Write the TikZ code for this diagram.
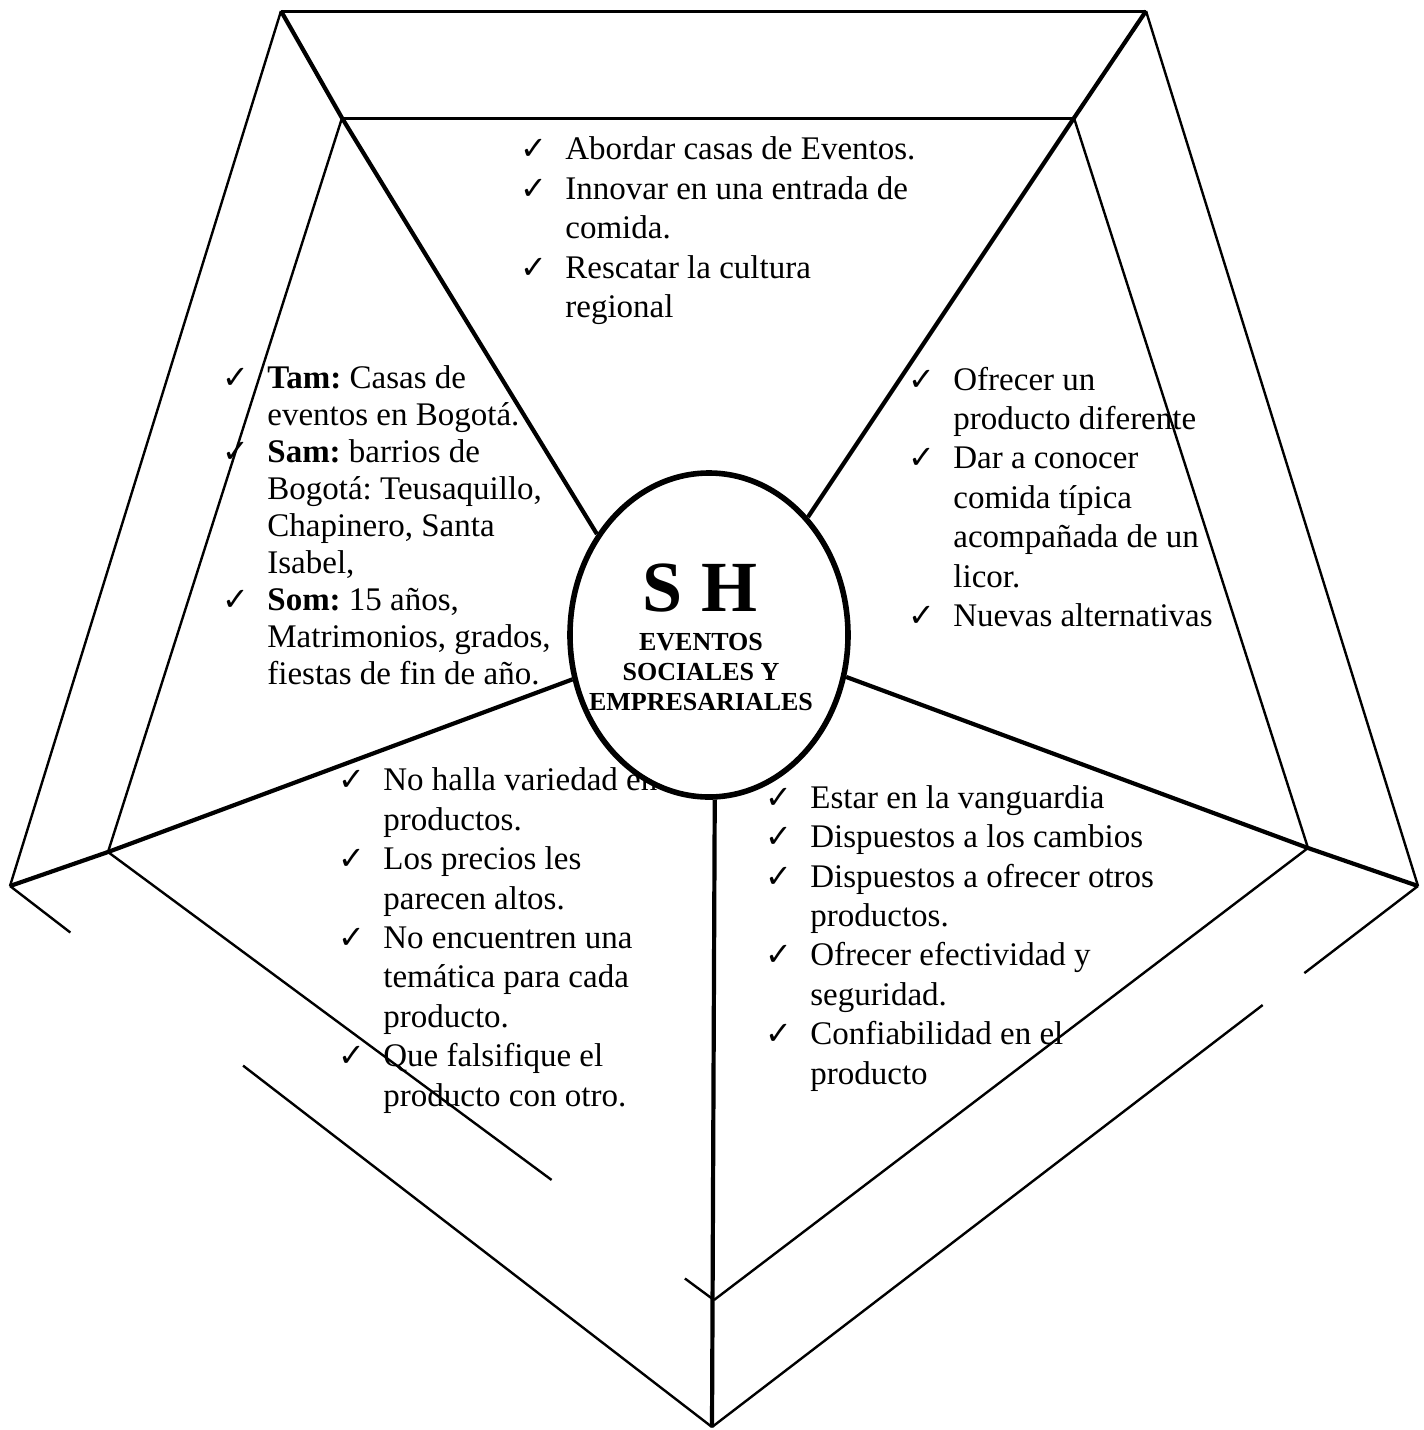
\documentclass[tikz,border=0pt]{standalone}
\usepackage{fontspec}
\setmainfont{Liberation Serif}
\newfontfamily\checkfont{DejaVu Sans}
\usetikzlibrary{calc,shapes.geometric}
\frenchspacing

\newcommand{\chk}{\makebox[22.5pt][l]{\checkfont\fontsize{16}{16}\selectfont ✓}}
\newcommand{\cnt}{\hspace*{22.5pt}}

\tikzset{
  edge line/.style={line width=1.2pt},
  top line/.style={line width=1.5pt},
  spoke line/.style={line width=2.1pt},
  item list/.style={anchor=north west, inner sep=0pt, align=left, font=\fontsize{16.5}{19.7}\selectfont},
}

\begin{document}
\begin{tikzpicture}[x=0.5pt,y=-0.5pt]
    \useasboundingbox (0,0) rectangle (1424,1430);

    % Corners of the two pentagons
    \coordinate (OTL) at (281,11);
    \coordinate (OTR) at (1146,11);
    \coordinate (OL) at (10,886);
    \coordinate (OR) at (1418,886);
    \coordinate (OB) at (712,1427);
    \coordinate (ITL) at (342,118);
    \coordinate (ITR) at (1074,118);
    \coordinate (IL) at (108,852);
    \coordinate (IR) at (1308,848);
    \coordinate (IB) at (714,1300);

    % Top edges
    \draw[top line] (OTL) -- (OTR);
    \draw[top line] (ITL) -- (ITR);

    % Side edges
    \draw[edge line] (OTL) -- (OL);
    \draw[edge line] (ITL) -- (IL);
    \draw[edge line] (OTR) -- (OR);
    \draw[edge line] (ITR) -- (IR);

    % Bottom edges (broken)
    \draw[edge line] (OL) -- ($(OL)!0.086!(OB)$);
    \draw[edge line] ($(OL)!0.332!(OB)$) -- (OB);
    \draw[edge line] (IL) -- ($(IL)!0.732!(IB)$);
    \draw[edge line] ($(IL)!0.952!(IB)$) -- (IB);
    \draw[edge line] (OR) -- ($(OR)!0.161!(OB)$);
    \draw[edge line] ($(OR)!0.22!(OB)$) -- (OB);
    \draw[edge line] (IR) -- (IB);

    % Lists
    \node[item list] (toplist) at (520,136.5) {\chk Abordar casas de Eventos.\\
      \chk Innovar en una entrada de\\
      \cnt comida.\\
      \chk Rescatar la cultura\\
      \cnt regional};
    \node[item list, font=\fontsize{16.5}{18.5}\selectfont] (leftlist) at (222,365.5) {\chk \textbf{Tam:} Casas de\\
      \cnt eventos en Bogotá.\\
      \chk \textbf{Sam:} barrios de\\
      \cnt Bogotá: Teusaquillo,\\
      \cnt Chapinero, Santa\\
      \cnt Isabel,\\
      \chk \textbf{Som:} 15 años,\\
      \cnt Matrimonios, grados,\\
      \cnt fiestas de fin de año.};
    \node[item list] (rightlist) at (908,366.5) {\chk Ofrecer un\\
      \cnt producto diferente\\
      \chk Dar a conocer\\
      \cnt comida típica\\
      \cnt acompañada de un\\
      \cnt licor.\\
      \chk Nuevas alternativas};
    \node[item list] (lowleftlist) at (338,767.5) {\chk No halla variedad en\\
      \cnt productos.\\
      \chk Los precios les\\
      \cnt parecen altos.\\
      \chk No encuentren una\\
      \cnt temática para cada\\
      \cnt producto.\\
      \chk Que falsifique el\\
      \cnt producto con otro.};
    \node[item list] (lowrightlist) at (765,785) {\chk Estar en la vanguardia\\
      \chk Dispuestos a los cambios\\
      \chk Dispuestos a ofrecer otros\\
      \cnt productos.\\
      \chk Ofrecer efectividad y\\
      \cnt seguridad.\\
      \chk Confiabilidad en el\\
      \cnt producto};

    % Centre
    \node[draw, fill=white, ellipse, line width=2.8pt, minimum width=139pt, minimum height=162pt, inner sep=0pt] (sh) at (709,635) {};
    \node[font=\fontsize{36}{40}\selectfont\bfseries, anchor=base, inner sep=0pt] (shname) at (700,611) {S H};
    \node[font=\fontsize{13}{15}\selectfont\bfseries, align=center, inner sep=0pt] (shsub) at (701,672) {EVENTOS\\SOCIALES Y\\EMPRESARIALES};

    % Spokes
    \draw[spoke line] (OTL) -- (ITL) -- (sh.138);
    \draw[spoke line] (OTR) -- (ITR) -- (sh.50);
    \draw[spoke line] (OL) -- (IL) -- (sh.198);
    \draw[spoke line] (OR) -- (IR) -- (sh.343);
    \draw[spoke line] (sh.272) -- (OB);
\end{tikzpicture}
\end{document}
